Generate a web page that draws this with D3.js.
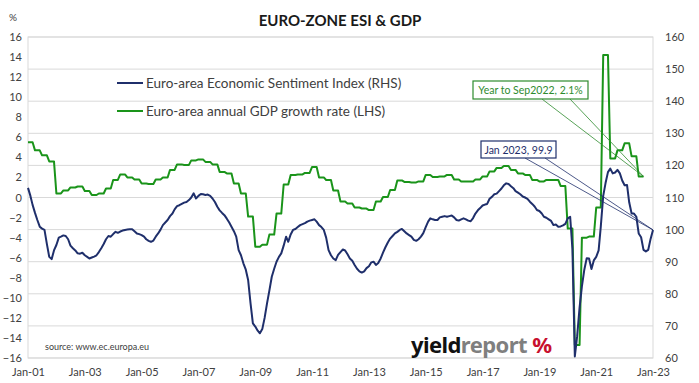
<!DOCTYPE html>
<html><head><meta charset="utf-8">
<script src="https://cdn.jsdelivr.net/npm/d3@7"></script>
<style>
body{margin:0;background:#fff}
svg{display:block}
text{font-family:Lato,"Liberation Sans",sans-serif}
</style>
</head><body>
<svg id="chart" width="699" height="383"></svg>
<script>
// Euro-area Economic Sentiment Index, monthly Jan 2001 .. Jan 2023 (RHS)
const esiValues = [
113,110.5,107.7,105.2,103,100.9,100.3,99.9,95.5,91.5,90.8,93.5,
95.2,97.5,97.8,98.2,98.0,97.0,95.0,94.2,93.5,92.6,92.5,92.8,
92.0,91.5,91.0,91.3,91.6,92.0,93.0,94.2,95.5,97.0,98.0,97.8,
98.6,99.3,99.0,99.4,99.7,99.9,100.0,100.1,100.1,99.5,98.8,98.6,
98.3,97.8,97.0,96.5,96.2,96.6,97.8,98.8,100.0,101.4,102.2,103.0,
104.2,105.0,106.3,107.3,107.6,108.0,108.4,108.6,109.2,110.0,111.3,109.7,
110.5,111.1,111.0,110.8,110.9,110.5,109.7,108.6,107.1,106.0,105.2,104.5,
103.4,102.2,100.9,99.5,97.8,93.6,92.0,89.5,87.5,84.3,77.0,70.8,
69.8,68.5,67.7,69.0,72.5,77.0,81.0,85.3,87.8,90.0,91.5,92.6,
95.0,97.8,96.2,98.5,99.9,100.2,100.8,101.4,101.7,102.0,102.5,102.8,
103.0,103.2,102.5,101.4,100.8,99.9,97.5,93.6,92.0,91.0,90.5,92.1,
93.0,93.8,93.5,92.3,91.0,90.3,89.0,87.8,87.0,86.6,87.0,88.0,
88.6,89.8,90.0,89.0,89.6,91.0,92.8,94.5,96.0,97.2,98.0,98.8,
99.3,99.9,100.2,99.5,98.8,98.3,97.8,96.8,96.5,97.0,97.8,98.9,
100.8,102.5,103.5,103.2,103.0,103.0,103.8,104.0,104.2,104.0,104.2,104.4,
103.8,103.0,102.8,103.2,103.5,103.2,102.8,102.6,103.6,105.0,106.0,106.7,
107.5,107.8,108.0,109.6,110.2,111.0,111.2,112.0,112.8,113.8,114.4,114.2,
113.5,112.9,112.0,111.5,111.0,110.3,110.0,109.6,108.7,108.0,107.2,106.1,
105.8,105.0,104.0,103.7,103.2,102.7,101.4,101.6,100.9,101.0,101.3,101.8,
103.5,104.0,94.0,60.5,66.8,75.7,82.3,87.5,91.1,91.0,87.7,90.4,
91.5,93.5,101.0,110.5,114.5,117.9,119.0,117.5,117.8,118.6,117.5,115.3,
113.8,113.9,108.5,105.0,105.0,104.0,98.8,97.6,93.7,93.2,93.7,97.1,
99.9
];
// Euro-area annual GDP growth rate (%), quarterly 2001Q1 .. 2022Q3 (LHS)
const gdpQuarterly = [
5.5,4.7,4.2,3.6,
0.4,0.7,1.0,1.1,
0.65,0.25,0.4,0.9,
1.75,2.3,2.0,1.8,
1.4,1.35,1.8,2.0,
2.75,3.3,3.25,3.7,
3.8,3.55,3.3,2.55,
2.4,1.4,0.4,-1.9,
-4.9,-4.7,-3.7,-1.6,
1.3,2.25,2.3,2.45,
3.05,2.0,1.75,0.7,
-0.4,-0.6,-1.0,-1.1,
-1.25,-0.4,0.05,0.75,
1.7,1.55,1.5,1.6,
2.25,2.05,2.1,2.25,
1.8,1.6,1.6,1.8,
2.1,2.6,2.95,3.15,
2.75,2.4,2.25,1.75,
1.6,1.75,1.75,1.15,
-3.1,-14.7,-4.0,-3.9,
-1.0,14.2,3.9,4.7,
5.4,4.1,2.1
];
const leftTicks = d3.range(-16, 17, 2);
const rightTicks = d3.range(60, 161, 10);
const xTickYears = d3.range(2001, 2024, 2);
const startMonth = new Date(2001, 0, 1);
const endMonth = new Date(2023, 0, 1);
const seriesNames = ["Euro-area Economic Sentiment Index (RHS)", "Euro-area annual GDP growth rate (LHS)"];
const esiNote = "Jan 2023, 99.9";
const gdpNote = "Year to Sep2022, 2.1%";

const navy = "#1f2f6b", green = "#1a941a", grid = "#d9d9d9", axisText = "#404040";
const svg = d3.select("#chart");
const L = 28, R = 653, T = 37, B = 358;

const x = d3.scaleTime().domain([startMonth, endMonth]).range([L, R]);
const yL = d3.scaleLinear().domain([-16, 16]).range([B, T]);
const yR = d3.scaleLinear().domain([60, 160]).range([B, T]);

const esiData = esiValues.map((v, i) => ({d: d3.timeMonth.offset(startMonth, i), v}));
const gdpData = [];
gdpQuarterly.forEach((v, q) => { for (let k = 0; k < 3; k++) gdpData.push({d: d3.timeMonth.offset(startMonth, q * 3 + k), v}); });

// gridlines (right-axis ticks)
svg.append("g").selectAll("line").data(rightTicks).join("line")
  .attr("x1", L).attr("x2", R).attr("y1", d => yR(d)).attr("y2", d => yR(d))
  .attr("stroke", grid).attr("stroke-width", 1);
svg.append("rect").attr("x", L).attr("y", T).attr("width", R - L).attr("height", B - T)
  .attr("fill", "none").attr("stroke", grid).attr("stroke-width", 1);

// axes labels
const gl = svg.append("g").attr("transform", `translate(${L - 6},0)`)
  .call(d3.axisLeft(yL).tickValues(leftTicks).tickSize(0).tickPadding(0));
const gr = svg.append("g").attr("transform", `translate(${R + 12},0)`)
  .call(d3.axisRight(yR).tickValues(rightTicks).tickSize(0).tickPadding(0));
const gx = svg.append("g").attr("transform", `translate(0,${B + 10})`)
  .call(d3.axisBottom(x).tickValues(xTickYears.map(y => new Date(y, 0, 1))).tickFormat(d3.timeFormat("%b-%y")).tickSize(0).tickPadding(0));
[gl, gr, gx].forEach(g => {
  g.select(".domain").remove();
  g.selectAll("text").attr("fill", axisText).style("font-size", "11px").style("font-family", "Lato, 'Liberation Sans', sans-serif");
});

// series
const lineR = d3.line().x(d => x(d.d)).y(d => yR(d.v));
const lineL = d3.line().x(d => x(d.d)).y(d => yL(d.v));
svg.append("path").datum(gdpData).attr("d", lineL).attr("fill", "none")
  .attr("stroke", green).attr("stroke-width", 2).attr("stroke-linejoin", "round");
svg.append("path").datum(esiData).attr("d", lineR).attr("fill", "none")
  .attr("stroke", navy).attr("stroke-width", 2).attr("stroke-linejoin", "round");

// title & unit
svg.append("text").attr("x", 340).attr("y", 26).attr("text-anchor", "middle")
  .style("font-size", "15px").style("font-weight", "bold").attr("fill", "#1a1a1a").text("EURO-ZONE ESI & GDP");
svg.append("text").attr("x", 9).attr("y", 21).style("font-size", "10px").attr("fill", axisText).text("%");

// legend
[[navy, 83], [green, 111]].forEach(([c, yy], i) => {
  svg.append("line").attr("x1", 117).attr("x2", 143).attr("y1", yy).attr("y2", yy).attr("stroke", c).attr("stroke-width", 2);
  svg.append("text").attr("x", 146).attr("y", yy + 5).style("font-size", "13.5px").attr("fill", "#404040").text(seriesNames[i]);
});

// annotations
const gEnd = gdpData[gdpData.length - 1], eEnd = esiData[esiData.length - 1];
function note(txt, col, bx, by, bw, bh, anchors, tx, ty) {
  anchors.forEach(ax => svg.append("line").attr("x1", ax).attr("y1", by + bh).attr("x2", tx).attr("y2", ty)
    .attr("stroke", col).attr("stroke-width", 0.8));
  svg.append("rect").attr("x", bx).attr("y", by).attr("width", bw).attr("height", bh)
    .attr("fill", "#fff").attr("stroke", col).attr("stroke-width", 1.2);
  svg.append("text").attr("x", bx + bw / 2).attr("y", by + bh / 2 + 4).attr("text-anchor", "middle")
    .style("font-size", "10.5px").attr("fill", col).text(txt);
}
note(gdpNote, "#2e8b2e", 473, 81, 115, 18, [542, 570], x(gEnd.d), yL(gEnd.v));
note(esiNote, navy, 481, 141, 75, 17, [525, 545], x(eEnd.d), yR(eEnd.v));

// source & logo
svg.append("text").attr("x", 45).attr("y", 350).style("font-size", "9px").attr("fill", "#404040").text("source: www.ec.europa.eu");
const logo = svg.append("text").attr("x", 411).attr("y", 353).style("font-size", "22px").style("font-weight", "bold")
  .style("font-family", "'Noto Sans', sans-serif").attr("textLength", 141);
logo.append("tspan").attr("fill", "#111").text("yield");
logo.append("tspan").attr("fill", "#7f7f7f").text("report ");
logo.append("tspan").attr("fill", "#c8102e").text("%");
</script>
</body></html>
